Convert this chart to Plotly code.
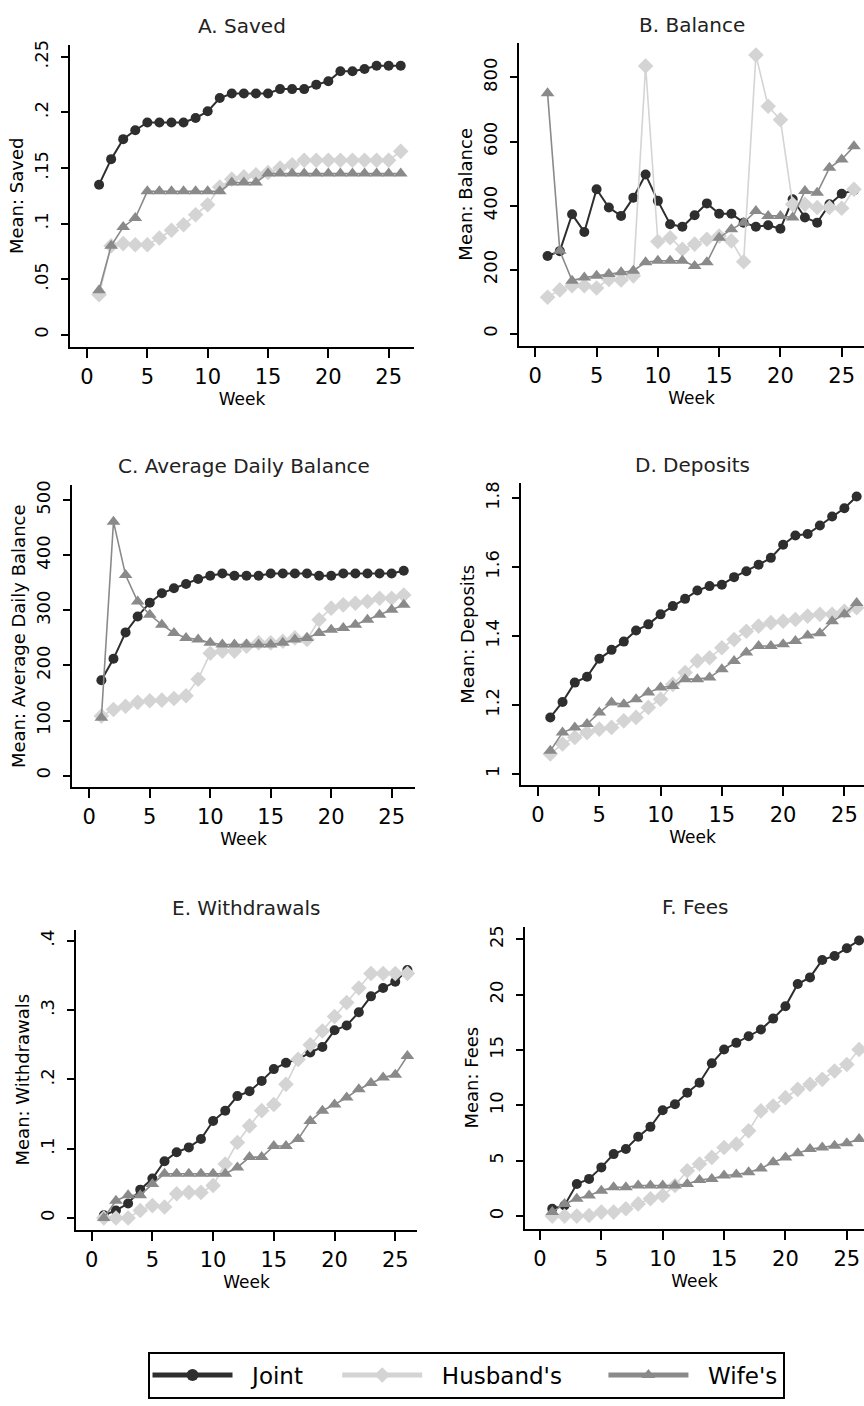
import plotly.graph_objects as go

weeks = list(range(1, 27))

# A. Saved
saved_joint = [0.135, 0.158, 0.176, 0.184, 0.191, 0.191, 0.191, 0.191, 0.195, 0.201, 0.213, 0.217, 0.217,
               0.217, 0.217, 0.221, 0.221, 0.221, 0.225, 0.228, 0.237, 0.237, 0.239, 0.242, 0.242, 0.242]
saved_husband = [0.036, 0.080, 0.082, 0.081, 0.081, 0.087, 0.094, 0.099, 0.108, 0.117, 0.133, 0.140, 0.142,
                 0.144, 0.146, 0.150, 0.153, 0.157, 0.157, 0.157, 0.157, 0.157, 0.157, 0.157, 0.157, 0.165]
saved_wife = [0.040, 0.080, 0.097, 0.105, 0.129, 0.129, 0.129, 0.129, 0.129, 0.129, 0.129, 0.137, 0.137,
              0.137, 0.145, 0.145, 0.145, 0.145, 0.145, 0.145, 0.145, 0.145, 0.145, 0.145, 0.145, 0.145]

# B. Balance
bal_joint = [243, 258, 373, 318, 451, 394, 368, 425, 497, 415, 342, 334, 370,
             407, 375, 375, 347, 334, 339, 328, 420, 363, 347, 404, 437, 448]
bal_husband = [114, 137, 150, 150, 143, 170, 168, 181, 836, 288, 300, 264, 280,
               295, 305, 290, 225, 870, 710, 668, 404, 404, 394, 394, 392, 451]
bal_wife = [751, 259, 166, 176, 181, 187, 192, 197, 223, 228, 228, 228, 212,
            223, 300, 326, 347, 383, 368, 368, 363, 446, 440, 518, 544, 585]

# C. Average Daily Balance
adb_joint = [173, 212, 260, 289, 314, 331, 340, 348, 357, 363, 367, 363, 363,
             363, 367, 367, 367, 367, 363, 363, 367, 367, 367, 367, 367, 372]
adb_husband = [108, 120, 126, 133, 136, 137, 140, 145, 175, 222, 226, 226, 235,
               241, 241, 244, 250, 247, 283, 304, 310, 313, 316, 322, 322, 328]
adb_wife = [105, 461, 364, 316, 292, 274, 259, 250, 247, 241, 238, 238, 238,
            238, 238, 241, 247, 250, 259, 265, 268, 274, 283, 292, 301, 310]

# D. Deposits
dep_joint = [1.164, 1.209, 1.265, 1.282, 1.334, 1.360, 1.384, 1.416, 1.434, 1.463, 1.487, 1.508, 1.532,
             1.545, 1.549, 1.571, 1.588, 1.607, 1.627, 1.665, 1.692, 1.696, 1.721, 1.747, 1.771, 1.805]
dep_husband = [1.058, 1.087, 1.106, 1.120, 1.130, 1.135, 1.154, 1.164, 1.193, 1.217, 1.260, 1.294, 1.328,
               1.337, 1.366, 1.390, 1.414, 1.429, 1.439, 1.443, 1.448, 1.458, 1.463, 1.463, 1.472, 1.482]
dep_wife = [1.067, 1.120, 1.135, 1.145, 1.178, 1.207, 1.202, 1.217, 1.236, 1.251, 1.255, 1.275, 1.275,
            1.280, 1.304, 1.328, 1.352, 1.371, 1.371, 1.376, 1.386, 1.402, 1.408, 1.443, 1.463, 1.496]

# E. Withdrawals
wd_joint = [0.004, 0.011, 0.021, 0.041, 0.057, 0.082, 0.095, 0.102, 0.114, 0.140, 0.155, 0.176, 0.183,
            0.198, 0.215, 0.224, 0.229, 0.239, 0.247, 0.271, 0.278, 0.297, 0.320, 0.332, 0.341, 0.358]
wd_husband = [0.000, 0.000, 0.000, 0.011, 0.018, 0.016, 0.035, 0.037, 0.037, 0.047, 0.078, 0.109, 0.133,
              0.155, 0.164, 0.193, 0.229, 0.250, 0.270, 0.291, 0.311, 0.332, 0.353, 0.353, 0.353, 0.353]
wd_wife = [0.000, 0.025, 0.033, 0.033, 0.049, 0.064, 0.064, 0.064, 0.064, 0.064, 0.064, 0.073, 0.088,
           0.088, 0.104, 0.104, 0.114, 0.140, 0.155, 0.164, 0.174, 0.186, 0.195, 0.203, 0.207, 0.234]

# F. Fees
fee_joint = [0.66, 0.96, 2.9, 3.36, 4.4, 5.6, 6.06, 7.17, 8.06, 9.56, 10.1, 11.15, 12.05,
             13.8, 15.05, 15.65, 16.25, 16.85, 17.84, 18.95, 20.96, 21.56, 23.14, 23.5, 24.2, 24.9]
fee_husband = [0.0, 0.0, 0.0, 0.06, 0.36, 0.36, 0.66, 1.1, 1.56, 1.86, 2.76, 4.1, 4.7,
               5.3, 6.2, 6.5, 7.7, 9.5, 9.95, 10.7, 11.45, 11.9, 12.35, 13.1, 13.7, 15.05]
fee_wife = [0.36, 1.1, 1.56, 1.86, 2.3, 2.6, 2.6, 2.76, 2.76, 2.76, 2.76, 2.9, 3.27,
            3.36, 3.66, 3.75, 3.96, 4.3, 4.86, 5.3, 5.67, 6.06, 6.2, 6.36, 6.57, 6.96]

panel_titles = ["A. Saved", "B. Balance", "C. Average Daily Balance",
                "D. Deposits", "E. Withdrawals", "F. Fees"]
y_titles = ["Mean: Saved", "Mean: Balance", "Mean: Average Daily Balance",
            "Mean: Deposits", "Mean: Withdrawals", "Mean: Fees"]
series_names = ["Joint", "Husband's", "Wife's"]

x_tickvals = [0, 5, 10, 15, 20, 25]
x_ticktext = ["0", "5", "10", "15", "20", "25"]

y_tickvals = [
    [0, 0.05, 0.1, 0.15, 0.2, 0.25],
    [0, 200, 400, 600, 800],
    [0, 100, 200, 300, 400, 500],
    [1, 1.2, 1.4, 1.6, 1.8],
    [0, 0.1, 0.2, 0.3, 0.4],
    [0, 5, 10, 15, 20, 25],
]
y_ticktext = [
    ["0", ".05", ".1", ".15", ".2", ".25"],
    ["0", "200", "400", "600", "800"],
    ["0", "100", "200", "300", "400", "500"],
    ["1", "1.2", "1.4", "1.6", "1.8"],
    ["0", ".1", ".2", ".3", ".4"],
    ["0", "5", "10", "15", "20", "25"],
]

panel_data = [
    (saved_joint, saved_husband, saved_wife),
    (bal_joint, bal_husband, bal_wife),
    (adb_joint, adb_husband, adb_wife),
    (dep_joint, dep_husband, dep_wife),
    (wd_joint, wd_husband, wd_wife),
    (fee_joint, fee_husband, fee_wife),
]

# ---- layout geometry (pixels) ----
W, H = 864, 1406
geom = [
    ((70, 414), (40, 343), (-1.41, 27.1), (-0.0108, 0.2608)),
    ((519, 864), (38, 342), (-1.33, 26.82), (-37.3, 908)),
    ((72, 415), (482, 785), (-1.43, 26.93), (-21.1, 527.1)),
    ((521, 864), (480, 783), (-1.39, 26.6), (0.9673, 1.8433)),
    ((76, 417), (928, 1229), (-1.29, 26.79), (-0.0167, 0.4162)),
    ((525, 864), (925, 1228), (-1.22, 26.4), (-1.133, 26.14)),
]
title_y_px = [21, 20, 463, 462, 906, 905]

styles = [
    dict(color="#2e2e2e", symbol="circle", size=10, width=2.0),
    dict(color="#d4d4d4", symbol="diamond", size=12, width=1.6),
    dict(color="#8a8a8a", symbol="triangle-up", size=12, width=1.6),
]
# spacing around legend labels (non-breaking spaces) to mimic the wide legend
NB = "\u00a0"
legend_lead = [NB * 2, NB * 2, NB * 2]
legend_trail = [NB * 4, NB * 5, ""]

FONT = "DejaVu Sans"
fig = go.Figure()
annotations = []

for i, (data, (xd, yd, xr, yr)) in enumerate(zip(panel_data, geom)):
    xa = "x" if i == 0 else f"x{i+1}"
    ya = "y" if i == 0 else f"y{i+1}"
    for j, (vals, st, name) in enumerate(zip(data, styles, series_names)):
        fig.add_trace(go.Scatter(
            x=weeks, y=vals, xaxis=xa, yaxis=ya, mode="lines+markers",
            name=legend_lead[j] + name + legend_trail[j],
            showlegend=(i == 0), legendgroup=name,
            line=dict(color=st["color"], width=st["width"]),
            marker=dict(color=st["color"], symbol=st["symbol"], size=st["size"], line=dict(width=0)),
            cliponaxis=False,
        ))
    xkey = "xaxis" if i == 0 else f"xaxis{i+1}"
    ykey = "yaxis" if i == 0 else f"yaxis{i+1}"
    fig.update_layout(**{
        xkey: dict(
            domain=[xd[0] / W, xd[1] / W], range=list(xr), anchor=ya,
            showline=True, linecolor="black", linewidth=2, mirror=False,
            ticks="outside", ticklen=9, tickwidth=2, tickcolor="black",
            tickvals=x_tickvals, ticktext=x_ticktext,
            tickfont=dict(family=FONT, size=21, color="black"),
            ticklabelstandoff=1,
            showgrid=False, zeroline=False,
            title=dict(text="Week", font=dict(family=FONT, size=17, color="black"), standoff=0),
        ),
        ykey: dict(
            domain=[1 - yd[1] / H, 1 - yd[0] / H], range=list(yr), anchor=xa,
            showline=True, linecolor="black", linewidth=2,
            ticks="outside", ticklen=7, tickwidth=2, tickcolor="black",
            tickvals=y_tickvals[i], ticktext=y_ticktext[i], tickangle=-90,
            tickfont=dict(family=FONT, size=18, color="black"),
            ticklabelstandoff=6,
            showgrid=False, zeroline=False,
            title=dict(text=y_titles[i], font=dict(family=FONT, size=18, color="black"), standoff=2),
        ),
    })
    annotations.append(dict(
        text=panel_titles[i], xref="paper", yref="paper",
        x=(xd[0] + xd[1]) / 2 / W, y=1 - title_y_px[i] / H,
        xanchor="center", yanchor="middle", showarrow=False,
        font=dict(family=FONT, size=20, color="#222"),
    ))

fig.update_layout(
    width=W, height=H, margin=dict(l=0, r=0, t=0, b=0),
    paper_bgcolor="white", plot_bgcolor="white",
    annotations=annotations,
    showlegend=True,
    legend=dict(
        orientation="h", x=466 / W, y=1 - 1375 / H, xanchor="center", yanchor="middle",
        bordercolor="black", borderwidth=2, bgcolor="white",
        font=dict(family=FONT, size=23, color="black"),
        itemwidth=80, itemsizing="constant",
    ),
)

fig.write_html("out.html")
